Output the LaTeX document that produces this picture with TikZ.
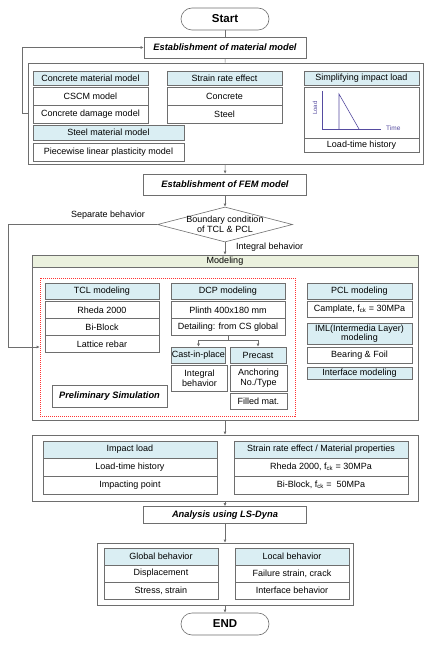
\documentclass[tikz,border=0pt]{standalone}
\usepackage{fontspec}
\setmainfont{Liberation Sans}
\usetikzlibrary{shapes.geometric,arrows.meta,calc,positioning}
\definecolor{hdrblue}{RGB}{218,238,243}
\definecolor{modgreen}{RGB}{235,241,222}
\definecolor{framegray}{RGB}{110,110,110}
\definecolor{axisblue}{RGB}{85,75,160}

\begin{document}
\begin{tikzpicture}[x=1pt, y=-1pt,
    every node/.style={font=\fontsize{9}{10}\selectfont, inner sep=0pt},
    sz/.style 2 args={minimum width=#1, minimum height=#2},
    cbox/.style={draw=framegray, fill=white, line width=0.6pt, align=center},
    hbox/.style={cbox, fill=hdrblue},
    tbox/.style={cbox, font=\fontsize{9.3}{10}\selectfont\bfseries\itshape},
    term/.style={cbox, rounded corners=11pt, font=\fontsize{11.5}{12}\selectfont\bfseries},
    arr/.style={-{Latex[length=3pt,width=3pt]}, framegray, line width=0.6pt},
    ln/.style={framegray, line width=0.6pt}]
    \useasboundingbox (0,0) rectangle (434,647);

    % start and material model
    \node[term, sz={88}{22}] (start) at (225,19) {Start};
    \node[tbox, sz={162}{21}] (mattitle) at (225,47.5) {Establishment of material model};
    \node[cbox, sz={395}{101}] (matbox) at (225.5,113.5) {};

    \node[hbox, sz={115}{14}] (conchdr) at (90.5,78) {Concrete material model};
    \node[cbox, sz={115}{18}] (cscm) at (90.5,96) {CSCM model};
    \node[cbox, sz={115}{18}] (cdm) at (90.5,114) {Concrete damage model};

    \node[hbox, sz={115}{14}] (ratehdr) at (224.5,78) {Strain rate effect};
    \node[cbox, sz={115}{18}] (rateconc) at (224.5,96) {Concrete};
    \node[cbox, sz={115}{18}] (ratesteel) at (224.5,114) {Steel};

    \node[hbox, sz={115}{14}] (imphdr) at (361.5,78) {Simplifying impact load};
    \node[cbox, sz={115}{51}] (loadgraph) at (361.5,112.5) {};
    \node[cbox, sz={115}{14}] (loadhist) at (361.5,145) {Load-time history};
    \draw[axisblue, line width=0.6pt] (322,91) -- (322,129) -- (381,129);
    \draw[axisblue, line width=0.6pt] (339,129) -- (339,94) -- (359,129);
    \node[rotate=90, font=\fontsize{6}{6}\selectfont, axisblue] (loadlbl) at (315,108) {Load};
    \node[anchor=west, font=\fontsize{6.5}{7}\selectfont, axisblue] (timelbl) at (386,128) {Time};

    \node[hbox, sz={151}{15}] (steelhdr) at (108.5,132.5) {Steel material model};
    \node[cbox, sz={151}{18}] (piecewise) at (108.5,152) {Piecewise linear plasticity model};

    \draw[ln] (start) -- (mattitle);
    \draw[ln] (mattitle) -- (matbox);
    \draw[arr] (matbox.west) -- ++(-5,0) |- (mattitle.west);

    % FEM model and boundary condition
    \node[tbox, sz={163}{21}] (femtitle) at (225,184.5) {Establishment of FEM model};
    \node[draw=framegray, line width=0.6pt, shape=diamond, sz={135}{35}] (bc) at (225,224.5) {};
    \node[align=center, font=\fontsize{9}{9.5}\selectfont] (bctext) at (bc.center) {Boundary condition\\of TCL \& PCL};
    \node (seplbl) at (108,215) {Separate behavior};
    \node[anchor=west] (intlbl) at (236,247) {Integral behavior};

    \draw[arr] (matbox) -- (femtitle);
    \draw[arr] (femtitle) -- (bc);

    % modeling
    \node[cbox, sz={386}{165}] (modbox) at (225,337.5) {};
    \node[cbox, fill=modgreen, sz={386}{12}] (modhdr) at (225,261) {Modeling};
    \node[draw=red!80, dash pattern=on 1pt off 1pt, line width=0.6pt, sz={255}{138}] (prelim) at (167.5,347) {};

    \node[hbox, sz={114}{16}] (tclhdr) at (102,291) {TCL modeling};
    \node[cbox, sz={114}{17}] (rheda) at (102,310) {Rheda 2000};
    \node[cbox, sz={114}{17}] (biblock) at (102,327) {Bi-Block};
    \node[cbox, sz={114}{17}] (lattice) at (102,344) {Lattice rebar};

    \node[hbox, sz={114}{16}] (dcphdr) at (228,291) {DCP modeling};
    \node[cbox, sz={114}{17}] (plinth) at (228,310) {Plinth 400x180 mm};
    \node[cbox, sz={114}{17}] (detail) at (228,327) {Detailing: from CS global};
    \node[hbox, sz={54}{16}] (cast) at (198.5,355) {Cast-in-place};
    \node[hbox, sz={56}{16}] (precast) at (258,355) {Precast};
    \node[cbox, sz={56}{26}] (integral) at (199.5,378) {Integral\\behavior};
    \node[cbox, sz={57}{26}] (anchor) at (258.5,378) {Anchoring\\No./Type};
    \node[cbox, sz={57}{16}] (filled) at (258.5,401) {Filled mat.};
    \draw[ln] (detail.south) -- ++(0,4.5) coordinate (split);
    \draw[arr] (split) -| (cast.north);
    \draw[arr] (split) -| (precast.north);

    \node[tbox, sz={115}{22}] (prelimlbl) at (109.5,396) {Preliminary Simulation};

    \node[hbox, sz={105}{16}] (pclhdr) at (359.5,291) {PCL modeling};
    \node[cbox, sz={105}{16}] (camplate) at (359.5,309) {Camplate, f\textsubscript{ck} = 30MPa};
    \node[hbox, sz={105}{21}, font=\fontsize{9}{8.5}\selectfont] (imlhdr) at (359.5,333.5) {IML(Intermedia Layer)\\modeling};
    \node[cbox, sz={105}{16}] (bearing) at (359.5,355) {Bearing \& Foil};
    \node[hbox, sz={105}{12}] (interface) at (359.5,373) {Interface modeling};

    \draw[arr] (bc.south) -- (modhdr.north);
    \coordinate (sepcorner) at (8,224.5);
    \draw[arr] (bc.west) -- (sepcorner) |- (prelim.west);

    % loads and material properties
    \node[cbox, sz={386}{66}] (loadbox) at (225,468) {};
    \node[hbox, sz={174}{17}] (impacthdr) at (130,449.5) {Impact load};
    \node[cbox, sz={174}{18}] (lthist) at (130,467) {Load-time history};
    \node[cbox, sz={174}{18}] (imppoint) at (130,485) {Impacting point};
    \node[hbox, sz={174}{17}] (prophdr) at (321,449.5) {Strain rate effect / Material properties};
    \node[cbox, sz={174}{18}] (rhedaprop) at (321,467) {Rheda 2000, f\textsubscript{ck} = 30MPa};
    \node[cbox, sz={174}{18}] (biprop) at (321,485) {Bi-Block, f\textsubscript{ck} =\ \ 50MPa};
    \draw[arr] (modbox) -- (loadbox);

    % analysis and results
    \node[tbox, sz={163}{17}] (analysis) at (225,515) {Analysis using LS-Dyna};
    \node[cbox, sz={256}{62}] (resbox) at (225,574) {};
    \node[hbox, sz={114}{17}] (globalhdr) at (161,556.5) {Global behavior};
    \node[cbox, sz={114}{17}] (displ) at (161,573.5) {Displacement};
    \node[cbox, sz={114}{17}] (stress) at (161,590.5) {Stress, strain};
    \node[hbox, sz={114}{17}] (localhdr) at (292,556.5) {Local behavior};
    \node[cbox, sz={114}{17}] (failure) at (292,573.5) {Failure strain, crack};
    \node[cbox, sz={114}{17}] (ifbeh) at (292,590.5) {Interface behavior};
    \node[term, sz={88}{22}] (finish) at (225,624) {END};

    \draw[arr] (loadbox) -- (analysis);
    \draw[arr] (analysis) -- (resbox);
    \draw[arr] (resbox) -- (finish);
\end{tikzpicture}
\end{document}
